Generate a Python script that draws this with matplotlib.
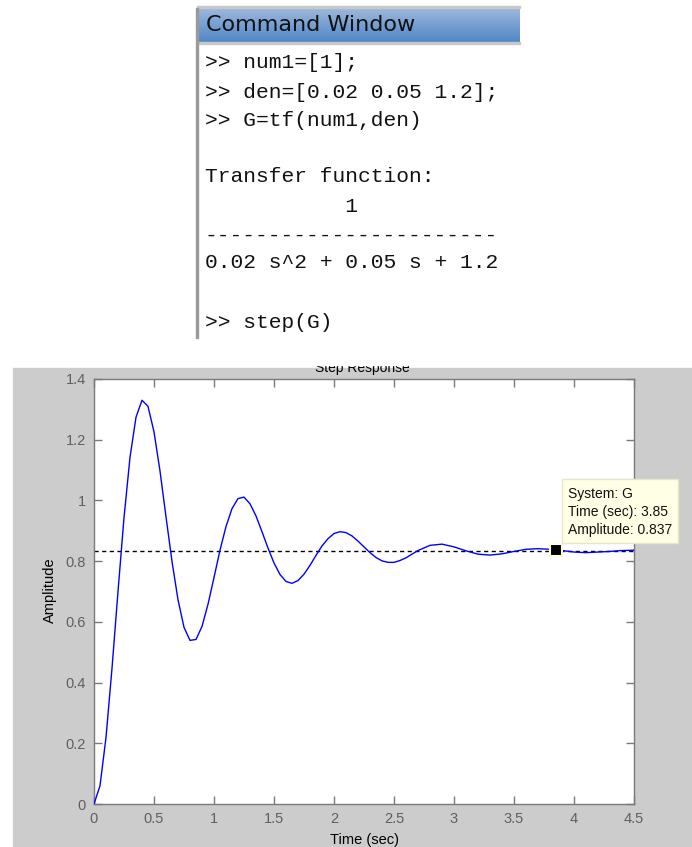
import matplotlib
matplotlib.use("Agg")
import matplotlib.pyplot as plt
import numpy as np
from matplotlib.patches import Rectangle

W, H = 692, 847

# ---------------- data ----------------
time_s = [0.00, 0.05, 0.10, 0.15, 0.20, 0.25, 0.30, 0.35, 0.40, 0.45, 0.50,
          0.55, 0.60, 0.65, 0.70, 0.75, 0.80, 0.85, 0.90, 0.95, 1.00,
          1.05, 1.10, 1.15, 1.20, 1.25, 1.30, 1.35, 1.40, 1.45, 1.50,
          1.55, 1.60, 1.65, 1.70, 1.75, 1.80, 1.85, 1.90, 1.95, 2.00,
          2.05, 2.10, 2.15, 2.20, 2.25, 2.30, 2.35, 2.40, 2.45, 2.50,
          2.55, 2.60, 2.70, 2.80, 2.90, 3.00, 3.10, 3.20, 3.30, 3.40,
          3.50, 3.60, 3.70, 3.80, 3.90, 4.00, 4.10, 4.20, 4.30, 4.40, 4.50]
amplitude = [0.000, 0.060, 0.219, 0.447, 0.700, 0.943, 1.142, 1.274, 1.330, 1.310, 1.226,
             1.097, 0.946, 0.799, 0.673, 0.582, 0.539, 0.542, 0.585, 0.658, 0.746,
             0.836, 0.914, 0.973, 1.006, 1.011, 0.989, 0.949, 0.897, 0.843, 0.794,
             0.756, 0.733, 0.727, 0.736, 0.757, 0.786, 0.819, 0.850, 0.874, 0.891,
             0.897, 0.894, 0.883, 0.866, 0.847, 0.828, 0.812, 0.801, 0.796, 0.796,
             0.802, 0.811, 0.835, 0.852, 0.856, 0.847, 0.834, 0.823, 0.820, 0.824,
             0.832, 0.839, 0.841, 0.839, 0.835, 0.830, 0.828, 0.830, 0.832, 0.835, 0.836]
steady_state = 0.833
tip_time = 3.85
tip_amp = 0.837
x_ticks = [0, 0.5, 1, 1.5, 2, 2.5, 3, 3.5, 4, 4.5]
x_tick_labels = ["0", "0.5", "1", "1.5", "2", "2.5", "3", "3.5", "4", "4.5"]
y_ticks = [0, 0.2, 0.4, 0.6, 0.8, 1.0, 1.2, 1.4]
y_tick_labels = ["0", "0.2", "0.4", "0.6", "0.8", "1", "1.2", "1.4"]
cmd_lines = [">> num1=[1];",
             ">> den=[0.02 0.05 1.2];",
             ">> G=tf(num1,den)",
             "",
             "Transfer function:",
             "           1",
             "-----------------------",
             "0.02 s^2 + 0.05 s + 1.2",
             "",
             ">> step(G)"]
tip_lines = ["System: G", "Time (sec): 3.85", "Amplitude: 0.837"]

# ---------------- helpers ----------------
def fx(x):
    return x / W

def fy(y):
    return 1 - y / H

fig = plt.figure(figsize=(W / 100, H / 100), dpi=100)
fig.patch.set_facecolor("white")

sans = ["Liberation Sans", "DejaVu Sans"]

# ---------------- command window ----------------
bar_ax = fig.add_axes([fx(197), fy(42), fx(520) - fx(197), fy(8) - fy(42)])
grad = np.linspace(0, 1, 64).reshape(-1, 1)
top_c = np.array([0.62, 0.72, 0.86])
bot_c = np.array([0.31, 0.53, 0.78])
img = top_c[None, None, :] * (1 - grad[:, :, None]) + bot_c[None, None, :] * grad[:, :, None]
bar_ax.imshow(np.repeat(img, 4, axis=1), aspect="auto", extent=[0, 1, 0, 1])
bar_ax.set_axis_off()
fig.patches.append(Rectangle((fx(197), fy(8)), fx(520) - fx(197), 2 / H,
                             transform=fig.transFigure, color="#c8c8c8", zorder=5))
fig.patches.append(Rectangle((fx(197), fy(44)), fx(520) - fx(197), 2 / H,
                             transform=fig.transFigure, color="#c8c8c8", zorder=5))
fig.text(fx(206), fy(25), "Command Window", fontsize=16, family="DejaVu Sans",
         color="#111111", va="center", ha="left", zorder=6)
fig.patches.append(Rectangle((fx(196), fy(338)), 2 / W, fy(8) - fy(338),
                             transform=fig.transFigure, color="#9a9a9a", zorder=5))

line_y = [63, 92, 120, 148, 177, 206, 235, 263, 292, 322]
for txt, yy in zip(cmd_lines, line_y):
    if txt:
        fig.text(fx(205), fy(yy), txt, fontsize=15.3, family="Liberation Mono",
                 color="#111111", va="center", ha="left")

# ---------------- plot figure background ----------------
fig.patches.append(Rectangle((fx(13), 0), 1 - fx(13), fy(368),
                             transform=fig.transFigure, color="#cccccc", zorder=-10))

fig.text(fx(362), fy(372), "Step Response", fontsize=10, family=sans,
         color="black", ha="center", va="baseline", zorder=3)
# the screenshot cuts the title across its letters
fig.patches.append(Rectangle((fx(250), fy(365)), fx(480) - fx(250), fy(345) - fy(365),
                             transform=fig.transFigure, color="white", zorder=20))

ax = fig.add_axes([fx(94), fy(804), fx(634) - fx(94), fy(379) - fy(804)])
ax.set_zorder(1)
ax.set_facecolor("white")
ax.plot(time_s, amplitude, color="#0000ff", lw=1.0, zorder=3)
ax.axhline(steady_state, color="black", lw=1.0, ls=(0, (3, 2.5)), zorder=2)
ax.plot([tip_time], [tip_amp], marker="s", ms=9, color="black",
        mec="#ffffe0", mew=1.5, zorder=6, clip_on=False)
ax.set_xlim(0, 4.5)
ax.set_ylim(0, 1.4)
ax.set_xticks(x_ticks)
ax.set_xticklabels(x_tick_labels)
ax.set_yticks(y_ticks)
ax.set_yticklabels(y_tick_labels)
ax.tick_params(direction="in", length=6, width=1, colors="#7a7a7a",
               labelcolor="#606060", labelsize=10.5, top=True, right=True, pad=6)
for lab in ax.get_xticklabels() + ax.get_yticklabels():
    lab.set_family(sans)
for s in ax.spines.values():
    s.set_color("#7a7a7a")
    s.set_linewidth(1.0)

fig.text(fx(364), fy(840), "Time (sec)", fontsize=10.5, family=sans,
         color="black", ha="center", va="center")
fig.text(fx(50), fy(590), "Amplitude", fontsize=10.5, family=sans,
         color="black", ha="center", va="center", rotation=90)

# ---------------- data tip ----------------
tip = Rectangle((fx(562), fy(543)), fx(678) - fx(562), fy(479) - fy(543),
                transform=fig.transFigure, facecolor="#ffffe6",
                edgecolor="#e6e6c8", lw=1, zorder=7)
fig.patches.append(tip)
for txt, yy in zip(tip_lines, [494, 512, 530]):
    fig.text(fx(568), fy(yy), txt, fontsize=10, family=sans,
             color="#111111", ha="left", va="center", zorder=8)

fig.savefig("out.png", dpi=100, facecolor="white")
